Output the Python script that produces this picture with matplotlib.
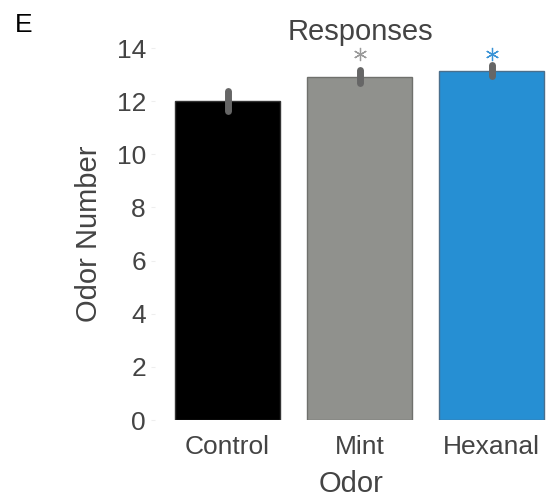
import matplotlib
matplotlib.use("Agg")
import matplotlib.pyplot as plt
import numpy as np

plt.rcParams['font.family'] = ['Liberation Sans', 'DejaVu Sans']

odors = ['Control', 'Mint', 'Hexanal']
means = [12.02, 12.92, 13.15]
errs = [0.38, 0.25, 0.2]
bar_colors = ['#000000', '#90918d', '#268fd3']
edge_colors = ['#333333', '#6f706c', '#4a6f8c']
star_colors = [None, '#9a9a9a', '#3a93d6']
star_level = 13.78
yticks = [0, 2, 4, 6, 8, 10, 12, 14]

txt = '#444444'
fig = plt.figure(figsize=(5.48, 4.97), dpi=100)
ax = fig.add_axes([155 / 548, 77 / 497, 392 / 548, 372 / 497])

x = np.arange(len(odors))
ax.bar(x, means, width=0.8, color=bar_colors, edgecolor=edge_colors, linewidth=1)
for xi, m, e in zip(x, means, errs):
    ax.plot([xi, xi], [m - e, m + e], color='#666666', lw=5, solid_capstyle='round')
# significance stars (6 spoke asterisk)
for xi, c in zip(x, star_colors):
    if c is None:
        continue
    ax.plot([xi], [star_level], marker=(6, 2, 0), ms=9.5, mew=0.9, color=c,
            linestyle='none', clip_on=False)

ax.set_xlim(-0.55, 2.42)
ax.set_ylim(0, 14)
ax.set_yticks(yticks)
ax.set_xticks(x)
ax.set_xticklabels(odors)
for s in ax.spines.values():
    s.set_visible(False)
ax.tick_params(axis='both', colors='#eeeeee', labelcolor=txt, labelsize=19, length=3)
ax.tick_params(axis='x', length=0, pad=10.5)
ax.set_ylabel('Odor Number', fontsize=21, color=txt, labelpad=10)
ax.set_xlabel('Odor', fontsize=21, color=txt, labelpad=8.5)
ax.set_title('Responses', fontsize=21, color=txt, pad=5.5, x=0.523)
fig.text(15 / 548, 1 - 32 / 497, 'E', fontsize=19, color='black')

fig.savefig('out.png', dpi=100)
